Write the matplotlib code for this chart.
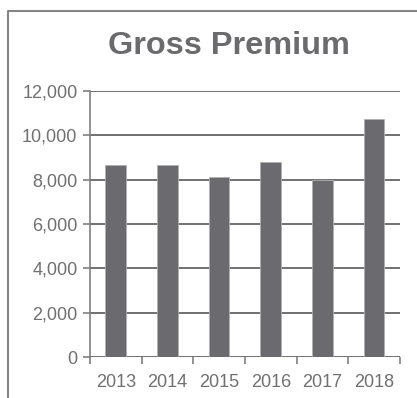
import matplotlib
matplotlib.use('Agg')
import matplotlib.pyplot as plt
from matplotlib.lines import Line2D
from matplotlib.ticker import FuncFormatter, FixedLocator
import numpy as np

years = ['2013', '2014', '2015', '2016', '2017', '2018']
premium = [8650, 8650, 8130, 8800, 8000, 10750]
yticks = [0, 2000, 4000, 6000, 8000, 10000, 12000]

plt.rcParams['font.family'] = ['Liberation Sans', 'DejaVu Sans']

bar_color = '#6b6b6f'
grid_color = '#707070'
text_color = '#707070'

fig = plt.figure(figsize=(4.17, 3.98), dpi=100)
ax = fig.add_axes([0.2158, 0.1030, 0.7434, 0.6684])

x = np.arange(len(years))
ax.bar(x, premium, width=0.4, color=bar_color, edgecolor='#b0b0b0',
       linewidth=0.6, zorder=3)

ax.set_xlim(-0.5, len(years) - 0.5)
ax.set_ylim(0, 12000)
ax.set_yticks(yticks)
ax.yaxis.set_major_formatter(FuncFormatter(lambda v, p: '{:,.0f}'.format(v)))
ax.set_xticks(x)
ax.set_xticklabels(years)
ax.xaxis.set_minor_locator(FixedLocator(np.arange(-0.5, len(years), 1.0)))

ax.grid(axis='y', color=grid_color, linewidth=1.4, zorder=1)
for s in ['top', 'right', 'bottom']:
    ax.spines[s].set_visible(False)
ax.spines['left'].set_color('#808080')
ax.spines['left'].set_linewidth(1.2)

ax.tick_params(axis='y', direction='out', length=5, width=1.2,
               color='#808080', labelsize=13, labelcolor=text_color, pad=4)
ax.tick_params(axis='x', which='major', length=0, labelsize=13,
               labelcolor=text_color, pad=12)
ax.tick_params(axis='x', which='minor', direction='out', length=5,
               width=1.2, color='#808080')

fig.text(229 / 417, 1 - 46 / 398, 'Gross Premium', ha='center', va='center',
         fontsize=23.4, fontweight='bold', color='#6b6b6e')

# outer frame (cropped box)
fig.add_artist(Line2D([8 / 417, 8 / 417, 1.0], [0.0, 1 - 11 / 398, 1 - 11 / 398],
                      transform=fig.transFigure, color='#858585', linewidth=1.5))

fig.savefig('out.png', dpi=100)
